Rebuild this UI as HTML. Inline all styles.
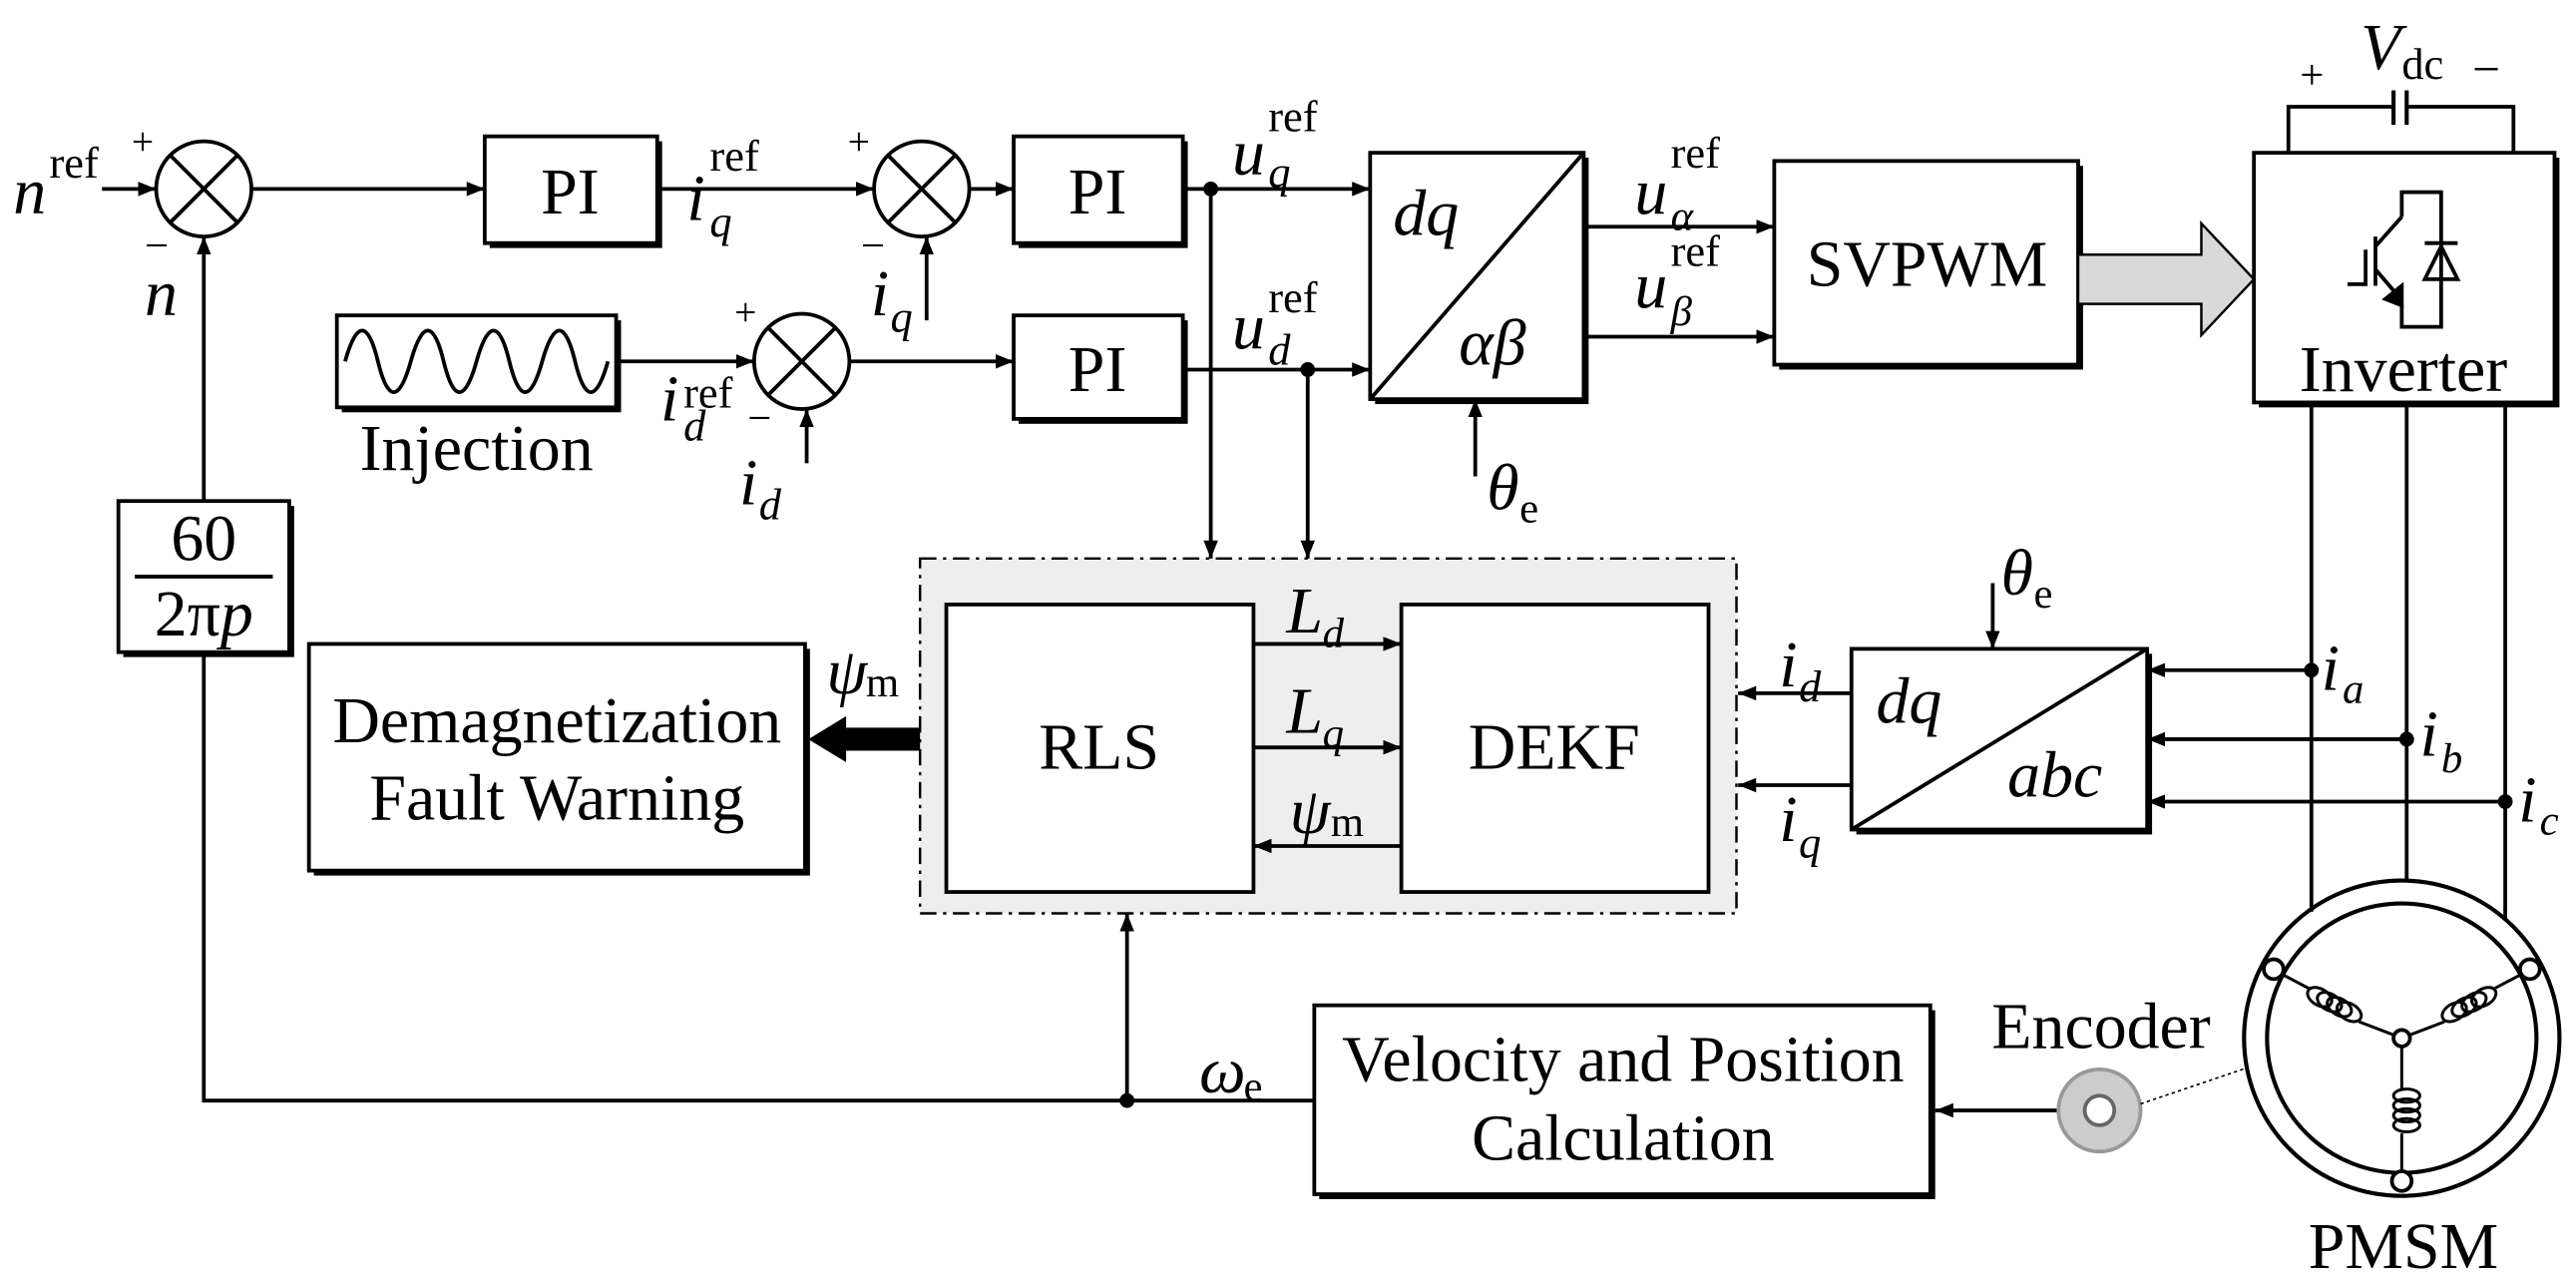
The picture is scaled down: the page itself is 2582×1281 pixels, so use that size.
<!DOCTYPE html>
<html><head><meta charset="utf-8"><style>
html,body{margin:0;padding:0;background:#fff}
svg{display:block}
text{font-family:"Liberation Serif",serif;fill:#000}
.it{font-style:italic}
.c{text-anchor:middle}
</style></head><body>
<svg width="2582" height="1281" viewBox="0 0 1568 778" xmlns="http://www.w3.org/2000/svg">
<defs>
<marker id="a" viewBox="0 0 10 10" refX="10" refY="5" markerWidth="11" markerHeight="11" markerUnits="userSpaceOnUse" orient="auto"><path d="M0,1 L10,5 L0,9 z" fill="#000"/></marker>
</defs>
<g stroke="#000" stroke-width="2.3" fill="none">
<g stroke="none" fill="#000">
<rect x="298" y="86" width="105" height="65"/>
<rect x="620" y="86" width="103" height="65"/>
<rect x="620" y="195" width="103" height="63"/>
<rect x="837" y="96" width="130" height="150"/>
<rect x="1083" y="101" width="185" height="124"/>
<rect x="1375" y="96" width="183" height="152"/>
<rect x="208" y="195" width="170" height="56"/>
<rect x="75" y="308" width="104" height="92"/>
<rect x="191" y="395" width="302" height="138"/>
<rect x="1130" y="398" width="180" height="110"/>
<rect x="803" y="615" width="375" height="115"/>
</g>
<rect x="560" y="340" width="497" height="216" fill="#eeeeee" stroke-dasharray="10,4,2,4" stroke-width="1.5"/>
<rect x="295" y="83" width="105" height="65" fill="#fff"/>
<rect x="617" y="83" width="103" height="65" fill="#fff"/>
<rect x="617" y="192" width="103" height="63" fill="#fff"/>
<rect x="834" y="93" width="130" height="150" fill="#fff"/>
<line x1="834" y1="243" x2="964" y2="93"/>
<rect x="1080" y="98" width="185" height="124" fill="#fff"/>
<rect x="1372" y="93" width="183" height="152" fill="#fff"/>
<rect x="205" y="192" width="170" height="56" fill="#fff"/>
<path d="M210,220 C217,195 224,195 230,220 C236,245 243,245 250,220 C257,195 264,195 270,220 C276,245 283,245 290,220 C297,195 304,195 310,220 C316,245 323,245 330,220 C337,195 344,195 350,220 C356,245 363,245 370,220"/>
<rect x="72" y="305" width="104" height="92" fill="#fff"/>
<line x1="82" y1="351" x2="166" y2="351"/>
<rect x="188" y="392" width="302" height="138" fill="#fff"/>
<rect x="1127" y="395" width="180" height="110" fill="#fff"/>
<line x1="1127" y1="505" x2="1307" y2="395"/>
<rect x="800" y="612" width="375" height="115" fill="#fff"/>
<rect x="576" y="368" width="187" height="175" fill="#fff"/>
<rect x="853" y="368" width="187" height="175" fill="#fff"/>
<g fill="#fff">
<circle cx="124" cy="115" r="29"/><circle cx="561" cy="115" r="29"/><circle cx="488" cy="220" r="29"/>
</g>
<path d="M103.5,94.5 L144.5,135.5 M144.5,94.5 L103.5,135.5 M540.5,94.5 L581.5,135.5 M581.5,94.5 L540.5,135.5 M467.5,199.5 L508.5,240.5 M508.5,199.5 L467.5,240.5"/>
<line x1="62" y1="115" x2="95" y2="115" marker-end="url(#a)"/>
<line x1="153" y1="115" x2="295" y2="115" marker-end="url(#a)"/>
<line x1="400" y1="115" x2="532" y2="115" marker-end="url(#a)"/>
<line x1="590" y1="115" x2="617" y2="115" marker-end="url(#a)"/>
<line x1="720" y1="115" x2="834" y2="115" marker-end="url(#a)"/>
<line x1="375" y1="220" x2="459" y2="220" marker-end="url(#a)"/>
<line x1="517" y1="220" x2="617" y2="220" marker-end="url(#a)"/>
<line x1="720" y1="225" x2="834" y2="225" marker-end="url(#a)"/>
<line x1="737" y1="115" x2="737" y2="340" marker-end="url(#a)"/>
<line x1="796" y1="225" x2="796" y2="340" marker-end="url(#a)"/>
<line x1="564" y1="195" x2="564" y2="144" marker-end="url(#a)"/>
<line x1="491" y1="282" x2="491" y2="249" marker-end="url(#a)"/>
<line x1="124" y1="305" x2="124" y2="144" marker-end="url(#a)"/>
<polyline points="124,397 124,670 800,670"/>
<line x1="686" y1="670" x2="686" y2="556" marker-end="url(#a)"/>
<line x1="964" y1="138" x2="1080" y2="138" marker-end="url(#a)"/>
<line x1="964" y1="205" x2="1080" y2="205" marker-end="url(#a)"/>
<line x1="898" y1="290" x2="898" y2="243" marker-end="url(#a)"/>
<line x1="1213" y1="355" x2="1213" y2="395" marker-end="url(#a)"/>
<line x1="763" y1="392" x2="853" y2="392" marker-end="url(#a)"/>
<line x1="763" y1="455" x2="853" y2="455" marker-end="url(#a)"/>
<line x1="853" y1="515" x2="763" y2="515" marker-end="url(#a)"/>
<line x1="1127" y1="422" x2="1058" y2="422" marker-end="url(#a)"/>
<line x1="1127" y1="478" x2="1058" y2="478" marker-end="url(#a)"/>
<line x1="1407" y1="408" x2="1307" y2="408" marker-end="url(#a)"/>
<line x1="1465" y1="450" x2="1307" y2="450" marker-end="url(#a)"/>
<line x1="1525" y1="488" x2="1307" y2="488" marker-end="url(#a)"/>
<line x1="1252" y1="676" x2="1178" y2="676" marker-end="url(#a)"/>
<path d="M560,443 L515,443 L515,436 L492,450 L515,464 L515,457 L560,457 z" fill="#000" stroke="none"/>
<path d="M1265,155 L1340,155 L1340,136 L1372,170 L1340,204 L1340,185 L1265,185 z" fill="#d9d9d9" stroke-width="1.5"/>
<polyline points="1393,93 1393,65 1457,65"/><polyline points="1465,65 1530,65 1530,93"/>
<line x1="1457" y1="55" x2="1457" y2="76" stroke-width="2.5"/><line x1="1465" y1="55" x2="1465" y2="76" stroke-width="2.5"/>
<!-- IGBT -->
<path d="M1462,132 L1462,117 L1486,117 L1486,199 L1462,199 L1462,185 M1462,132 L1446,150 M1446,144 L1446,174 M1440,152 L1440,173 L1429,173 M1446,164 L1458,178 M1476,148 L1496,148 M1476,170 L1486,150 L1496,170 z"/>
<path d="M1452,182 L1462,174 L1462,186 z" fill="#000"/>
<line x1="1407" y1="245" x2="1407" y2="555"/><line x1="1465" y1="245" x2="1465" y2="536"/><line x1="1525" y1="245" x2="1525" y2="560"/>
<circle cx="1462" cy="632" r="96" stroke-width="2.5"/><circle cx="1462" cy="632" r="82" stroke-width="2.5"/>
<g fill="#fff"><circle cx="1384" cy="590" r="6"/><circle cx="1540" cy="590" r="6"/><circle cx="1462" cy="719" r="6"/><circle cx="1462" cy="632" r="5"/></g>
<g stroke-width="1.8">
<path d="M1389,593 L1406,602 M1436,622 L1457,630"/>
<ellipse cx="1412" cy="607" rx="5" ry="8" transform="rotate(-60 1412 607)"/>
<ellipse cx="1418" cy="610" rx="5" ry="8" transform="rotate(-60 1418 610)"/>
<ellipse cx="1424" cy="613" rx="5" ry="8" transform="rotate(-60 1424 613)"/>
<ellipse cx="1430" cy="616" rx="5" ry="8" transform="rotate(-60 1430 616)"/>
<path d="M1535,593 L1518,602 M1488,622 L1467,630"/>
<ellipse cx="1512" cy="607" rx="5" ry="8" transform="rotate(60 1512 607)"/>
<ellipse cx="1506" cy="610" rx="5" ry="8" transform="rotate(60 1506 610)"/>
<ellipse cx="1500" cy="613" rx="5" ry="8" transform="rotate(60 1500 613)"/>
<ellipse cx="1494" cy="616" rx="5" ry="8" transform="rotate(60 1494 616)"/>
<path d="M1462,637 L1462,663 M1462,690 L1462,713"/>
<ellipse cx="1465" cy="667" rx="8" ry="4"/><ellipse cx="1465" cy="673" rx="8" ry="4"/><ellipse cx="1465" cy="679" rx="8" ry="4"/><ellipse cx="1465" cy="685" rx="8" ry="4"/>
</g>
<circle cx="1278" cy="676" r="25" fill="#ccc" stroke="#999"/>
<circle cx="1278" cy="676" r="9" fill="#fff" stroke="#666"/>
<line x1="1303" y1="672" x2="1368" y2="650" stroke-width="1" stroke-dasharray="2,2"/>
</g>
<g fill="#000"><circle cx="737" cy="115" r="4.5"/><circle cx="796" cy="225" r="4.5"/><circle cx="686" cy="670" r="4.5"/><circle cx="1407" cy="408" r="4.5"/><circle cx="1465" cy="450" r="4.5"/><circle cx="1525" cy="488" r="4.5"/></g>
<g font-size="40">
<text x="8" y="130" class="it">n</text><text x="30" y="108" font-size="27">ref</text>
<text x="80" y="94" font-size="24">+</text><text x="88" y="158" font-size="26">−</text>
<text x="88" y="192" class="it">n</text>
<text x="347" y="130" class="c">PI</text><text x="668" y="130" class="c">PI</text><text x="668" y="238" class="c">PI</text>
<text x="418" y="134" class="it">i</text><text x="432" y="144" class="it" font-size="27">q</text><text x="432" y="104" font-size="27">ref</text>
<text x="516" y="94" font-size="24">+</text><text x="524" y="158" font-size="26">−</text>
<text x="530" y="192" class="it">i</text><text x="542" y="202" class="it" font-size="27">q</text>
<text x="402" y="256" class="it">i</text><text x="416" y="268" class="it" font-size="27">d</text><text x="416" y="248" font-size="27">ref</text>
<text x="447" y="198" font-size="24">+</text><text x="455" y="263" font-size="26">−</text>
<text x="450" y="307" class="it">i</text><text x="462" y="316" class="it" font-size="27">d</text>
<text x="290" y="286" class="c">Injection</text>
<text x="750" y="106" class="it">u</text><text x="772" y="114" class="it" font-size="27">q</text><text x="772" y="80" font-size="27">ref</text>
<text x="750" y="212" class="it">u</text><text x="772" y="222" class="it" font-size="27">d</text><text x="772" y="190" font-size="27">ref</text>
<text x="848" y="143" class="it">dq</text><text x="888" y="222" class="it">αβ</text>
<text x="905" y="310" class="it">θ</text><text x="925" y="318" font-size="26">e</text>
<text x="995" y="130" class="it">u</text><text x="1017" y="140" class="it" font-size="26">α</text><text x="1017" y="102" font-size="27">ref</text>
<text x="995" y="187" class="it">u</text><text x="1017" y="198" class="it" font-size="26">β</text><text x="1017" y="162" font-size="27">ref</text>
<text x="1173" y="174" class="c">SVPWM</text>
<text x="1463" y="238" class="c">Inverter</text>
<text x="1400" y="54" font-size="26">+</text><text x="1505" y="52" font-size="30">−</text>
<text x="1437" y="42" class="it">V</text><text x="1462" y="48" font-size="27">dc</text>
<text x="124" y="341" class="c">60</text><text x="124" y="387" class="c">2<tspan>π</tspan><tspan class="it">p</tspan></text>
<text x="339" y="452" class="c">Demagnetization</text><text x="339" y="499" class="c">Fault Warning</text>
<text x="503" y="422" class="it">ψ</text><text x="527" y="424" font-size="26">m</text>
<text x="669" y="468" class="c">RLS</text><text x="946" y="468" class="c">DEKF</text>
<text x="783" y="385" class="it">L</text><text x="805" y="394" class="it" font-size="26">d</text>
<text x="783" y="446" class="it">L</text><text x="805" y="455" class="it" font-size="26">q</text>
<text x="785" y="507" class="it">ψ</text><text x="810" y="509" font-size="26">m</text>
<text x="1083" y="418" class="it">i</text><text x="1095" y="427" class="it" font-size="27">d</text>
<text x="1083" y="512" class="it">i</text><text x="1095" y="522" class="it" font-size="27">q</text>
<text x="1142" y="440" class="it">dq</text><text x="1222" y="485" class="it">abc</text>
<text x="1218" y="362" class="it">θ</text><text x="1238" y="370" font-size="26">e</text>
<text x="1413" y="420" class="it">i</text><text x="1426" y="428" class="it" font-size="26">a</text>
<text x="1473" y="460" class="it">i</text><text x="1486" y="470" class="it" font-size="26">b</text>
<text x="1533" y="500" class="it">i</text><text x="1546" y="508" class="it" font-size="26">c</text>
<text x="730" y="665" class="it">ω</text><text x="757" y="670" font-size="26">e</text>
<text x="988" y="658" class="c">Velocity and Position</text><text x="988" y="706" class="c">Calculation</text>
<text x="1279" y="638" class="c">Encoder</text>
<text x="1463" y="772" class="c">PMSM</text>
</g>
</svg>
</body></html>
